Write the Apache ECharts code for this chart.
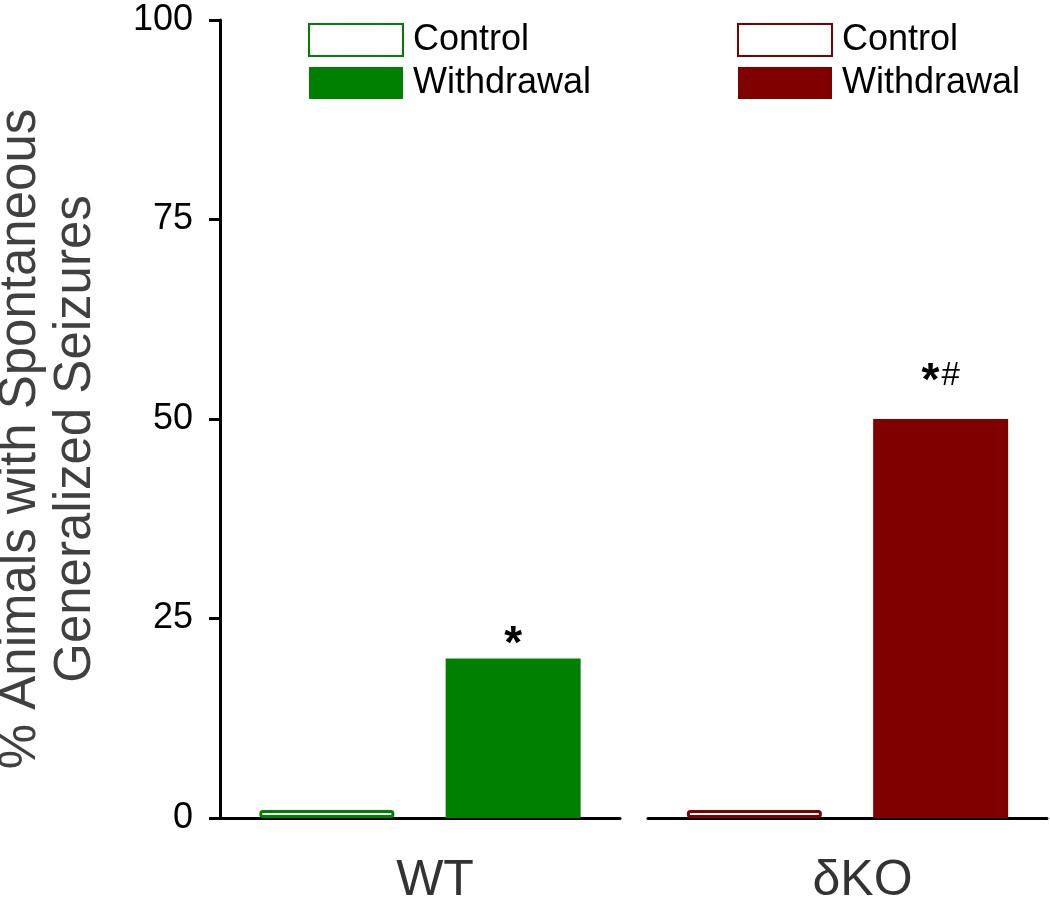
<!DOCTYPE html>
<html>
<head>
<meta charset="utf-8">
<script src="https://cdn.jsdelivr.net/npm/echarts@6/dist/echarts.min.js"></script>
<style>
html,body{margin:0;padding:0;background:#fff;}
#chart{width:1050px;height:901px;}
</style>
</head>
<body>
<div id="chart"></div>
<script>
const groups = ['WT', 'δKO'];
const conditions = ['Control', 'Withdrawal'];
const controlValues = [1, 1];
const withdrawalValues = [20, 50];
const significance = ['*', '*#'];
const yTicks = [0, 25, 50, 75, 100];
const groupColors = ['#008000', '#800000'];
const labelDistances = [-10, 14];

const FONT = '"Liberation Sans", Arial, sans-serif';
const chart = echarts.init(document.getElementById('chart'));

const grids = [
  { left: 220, width: 400, top: 20, bottom: 83, outerBoundsMode: 'none', containLabel: false },
  { left: 648, width: 399, top: 20, bottom: 83, outerBoundsMode: 'none', containLabel: false }
];

const xAxes = groups.map((g, i) => ({
  type: 'category',
  gridIndex: i,
  data: [g],
  axisLine: { lineStyle: { color: '#000', width: 3 } },
  axisTick: { show: false },
  axisLabel: {
    color: '#333', fontSize: 50, fontFamily: FONT, margin: 38,
    padding: [0, 0, 0, 30]
  }
}));

const yAxes = groups.map((g, i) => ({
  type: 'value',
  gridIndex: i,
  min: yTicks[0],
  max: yTicks[yTicks.length - 1],
  interval: yTicks[1] - yTicks[0],
  show: i === 0,
  name: i === 0 ? '% Animals with Spontaneous\nGeneralized Seizures' : '',
  nameLocation: 'middle',
  nameRotate: 90,
  nameGap: 117,
  nameTextStyle: {
    color: '#404040', fontSize: 51, fontFamily: FONT, lineHeight: 55,
    align: 'center', padding: [0, 40, 0, 0]
  },
  splitLine: { show: false },
  axisLine: { show: true, lineStyle: { color: '#000', width: 3 } },
  axisTick: { show: true, length: 11, lineStyle: { color: '#000', width: 3 } },
  axisLabel: { color: '#000', fontSize: 36, fontFamily: FONT, margin: 27 }
}));

function sigFormatter(str) {
  return str.split('').map(c => c === '#' ? '{h|#}' : '{s|' + c + '}').join('');
}

const series = [];
groups.forEach((g, i) => {
  series.push({
    name: g + ' ' + conditions[0],
    type: 'bar',
    xAxisIndex: i, yAxisIndex: i,
    barWidth: 135,
    barGap: '38%',
    data: [controlValues[i]],
    itemStyle: { color: '#fff', borderColor: groupColors[i], borderWidth: 3, borderRadius: 2 }
  });
  series.push({
    name: g + ' ' + conditions[1],
    type: 'bar',
    xAxisIndex: i, yAxisIndex: i,
    barWidth: 135,
    barGap: '38%',
    data: [withdrawalValues[i]],
    itemStyle: { color: groupColors[i] },
    label: {
      show: true,
      position: 'top',
      distance: labelDistances[i],
      formatter: () => sigFormatter(significance[i]),
      rich: {
        s: { fontSize: 46, fontWeight: 'bold', color: '#000', fontFamily: FONT },
        h: { fontSize: 33, color: '#000', fontFamily: FONT, padding: [0, 0, 12, 2] }
      }
    }
  });
});

const legendLefts = [308, 737];
const legends = groups.map((g, i) => ({
  orient: 'vertical',
  left: legendLefts[i],
  top: 22,
  padding: 0,
  icon: 'rect',
  itemWidth: 94,
  itemHeight: 32,
  itemGap: 7,
  selectedMode: false,
  data: conditions.map(c => g + ' ' + c),
  formatter: name => name.slice(g.length + 1),
  textStyle: { color: '#000', fontSize: 36, lineHeight: 32, fontFamily: FONT, padding: [0, 0, 0, 5] }
}));

chart.setOption({
  backgroundColor: '#fff',
  animation: false,
  grid: grids,
  xAxis: xAxes,
  yAxis: yAxes,
  legend: legends,
  series: series
});
</script>
</body>
</html>
